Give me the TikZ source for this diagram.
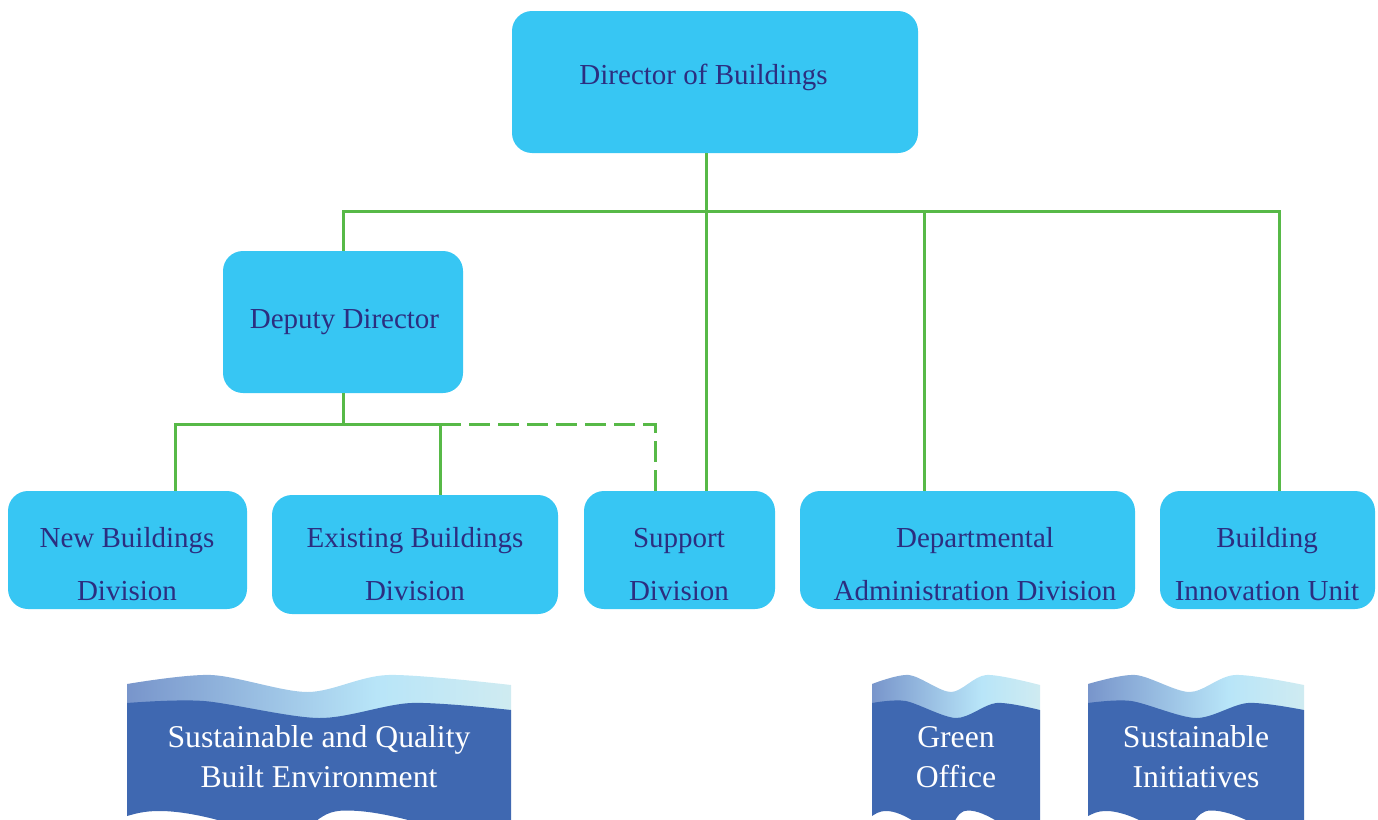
\documentclass[tikz,border=0pt]{standalone}
\usepackage{fontspec}
\setmainfont{Liberation Serif}
\usepackage{tikz}

\definecolor{boxcyan}{HTML}{37C6F3}
\definecolor{txtnavy}{HTML}{2C2E80}
\definecolor{linegreen}{HTML}{57B947}
\definecolor{bannerblue}{HTML}{3F68B1}
\definecolor{wavelo}{HTML}{7895CB}
\definecolor{wavemid}{HTML}{B8E5F8}
\definecolor{wavehi}{HTML}{CFEBF1}
\pgfdeclarehorizontalshading{bandshade}{100bp}{color(0bp)=(wavelo); color(25bp)=(wavelo); color(57.5bp)=(wavemid); color(75bp)=(wavehi); color(100bp)=(wavehi)}

\tikzset{
  box/.style={fill=boxcyan, rounded corners=20pt, inner sep=0pt},
  txt/.style={text=txtnavy, font=\fontsize{29}{53}\selectfont, align=center, inner sep=0pt},
  btxt/.style={text=white, font=\fontsize{31.7}{40}\selectfont, align=center, inner sep=0pt},
  link/.style={draw=linegreen, line width=3pt}
}

\begin{document}
\begin{tikzpicture}[x=1pt, y=-1pt]
      \useasboundingbox (0,0) rectangle (1378,819);

      \node[box, minimum width=406pt, minimum height=142pt] (dir) at (715,82) {};
      \node[box, minimum width=240pt, minimum height=142pt] (dep) at (343,322) {};
      \node[box, minimum width=239pt, minimum height=118pt] (new) at (127.5,550) {};
      \node[box, minimum width=286pt, minimum height=119pt] (exi) at (415,554.5) {};
      \node[box, minimum width=191pt, minimum height=118pt] (sup) at (679.5,550) {};
      \node[box, minimum width=335pt, minimum height=118pt] (adm) at (967.5,550) {};
      \node[box, minimum width=215pt, minimum height=118pt] (biu) at (1267.5,550) {};

      \node[txt, anchor=base] (dir text) at (703.5,84) {Director of Buildings};
      \node[txt, anchor=base] (dep text) at (344.5,328) {Deputy Director};
      \node[txt] (new text) at (127,563.6) {New Buildings\\Division};
      \node[txt] (exi text) at (415,563.6) {Existing Buildings\\Division};
      \node[txt] (sup text) at (679,564.6) {Support\\Division};
      \node[txt] (adm text) at (975,563.6) {Departmental\\Administration Division};
      \node[txt] (biu text) at (1267,563.6) {Building\\Innovation Unit};

      \coordinate (top bus) at (706,211);
      \coordinate (dep bus) at (343,424);
      \draw[link] (dir.south -| top bus) -- (sup.north -| top bus);
      \draw[link] (dep.north) |- (top bus);
      \draw[link] (top bus) -| ([xshift=-43.5pt]adm.north);
      \draw[link] (top bus) -| ([xshift=11.5pt]biu.north);
      \draw[link] (dep.south) -- (dep bus);
      \draw[link] (dep bus) -| ([xshift=47.5pt]new.north);
      \draw[link] (dep bus) -| ([xshift=25pt]exi.north);
      \draw[link, dash pattern=on 21pt off 8pt] ([xshift=25pt]exi.north |- dep bus) -| ([xshift=-24.5pt]sup.north);

      \foreach \bx/\bs in {127/3.84, 872/1.68, 1088/2.16}{
        \begin{scope}[shift={(\bx,0)}, xscale=\bs]
          \shade[shading=bandshade] plot[smooth] coordinates {(0,684) (22,675) (47,692) (68,675) (100,685)} -- (100,730) -- (0,730) -- cycle;
          \fill[bannerblue] plot[smooth] coordinates {(0,703) (20,701) (50,718) (74,703) (100,710)}
            -- (100,825) -- (78,825) .. controls (68,814) and (62,810.5) .. (57,810.5)
            .. controls (53,810.5) and (51,815) .. (48,825) -- (28,825)
            .. controls (20,815) and (13,811) .. (8.6,811)
            .. controls (4,811) and (2,814) .. (0,816) -- cycle;
        \end{scope}
      }

      \node[btxt] (sqbe text) at (319,757) {Sustainable and Quality\\Built Environment};
      \node[btxt] (green text) at (956,757) {Green\\Office};
      \node[btxt] (init text) at (1196,757) {Sustainable\\Initiatives};
\end{tikzpicture}
\end{document}
